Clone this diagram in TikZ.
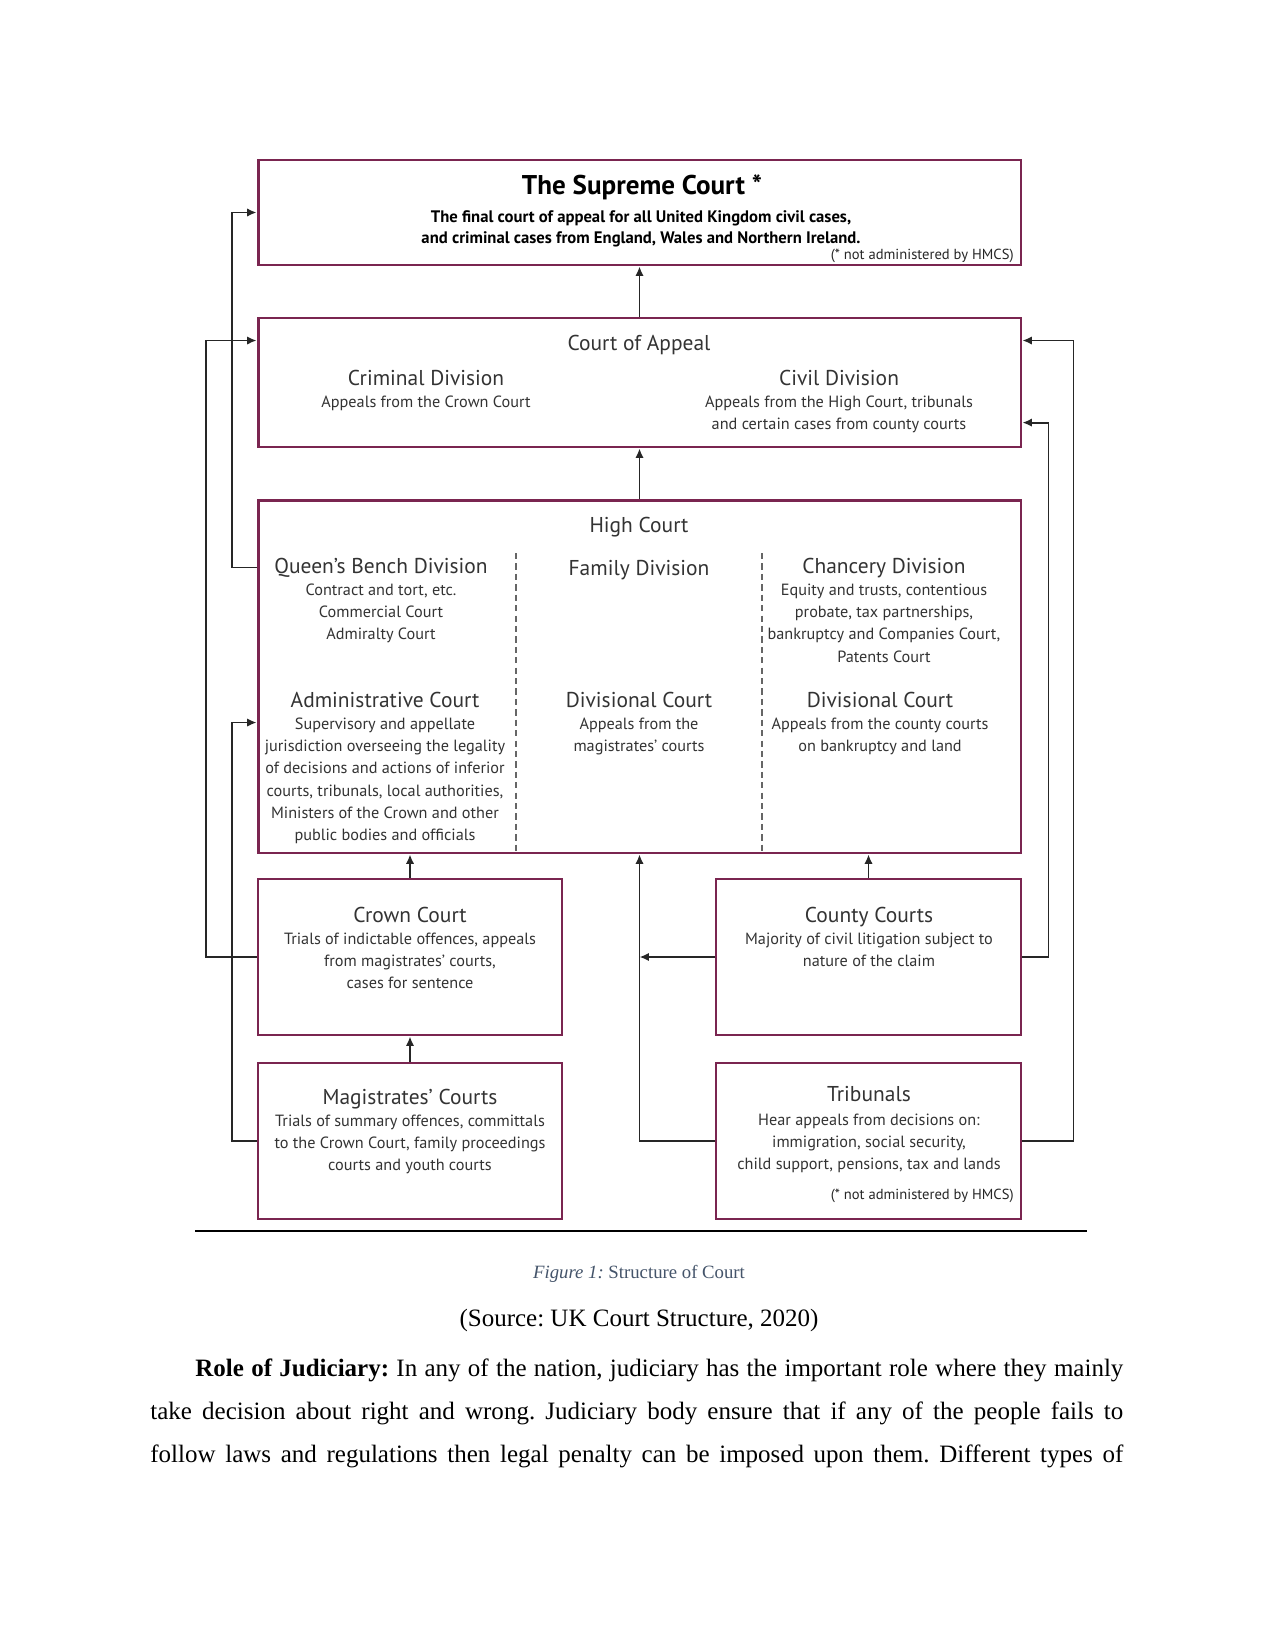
\documentclass[tikz,border=0pt]{standalone}
\usepackage{fontspec}
\setmainfont{Liberation Serif}
\newfontfamily\gillfont{PT Sans}
\usetikzlibrary{arrows.meta}
\definecolor{courtred}{HTML}{7A2550}
\definecolor{inkgrey}{HTML}{333333}
\definecolor{captionblue}{HTML}{44546A}
\frenchspacing

% heading inside a court box
\newcommand{\hd}[1]{{\fontsize{10.3}{10.6}\selectfont #1}}

\begin{document}
\begin{tikzpicture}[
      x=0.48pt, y=-0.48pt,
      box/.style={
        draw=courtred,
        line width=1.4pt,
        fill=white,
        inner sep=0pt
      },
      blurb/.style={font=\gillfont\fontsize{7.8}{10.6}\selectfont, text=inkgrey,
        align=center, inner sep=0pt, anchor=north},
      heading/.style={font=\gillfont\fontsize{10.3}{11}\selectfont, text=inkgrey, inner sep=0pt},
      note/.style={font=\gillfont\fontsize{7}{8}\selectfont, text=black!85, inner sep=0pt, anchor=east},
      arrow/.style={-{Latex[length=4.5pt,width=4pt]}, line width=0.9pt, draw=black!85},
      divider/.style={densely dashed, draw=black!60, line width=0.6pt}
    ]
      \fill[white] (0,0) rectangle (1275,1651);
      \useasboundingbox (0,0) rectangle (1275,1651);

      % the courts
      \node[box, minimum width=366.2pt, minimum height=50.4pt] (supreme) at (639.5,212.5) {};
      \node[box, minimum width=366.2pt, minimum height=61.9pt] (appeal) at (639.5,382.5) {};
      \node[box, minimum width=366.2pt, minimum height=169.4pt] (high) at (639.5,676.5) {};
      \node[box, minimum width=145.9pt, minimum height=74.9pt] (crown) at (410,957) {};
      \node[box, minimum width=146.4pt, minimum height=74.9pt] (county) at (868.5,957) {};
      \node[box, minimum width=145.9pt, minimum height=74.9pt] (magis) at (410,1141) {};
      \node[box, minimum width=146.4pt, minimum height=74.9pt] (trib) at (868.5,1141) {};

      % texts
      \node[font=\gillfont\bfseries\fontsize{13}{14}\selectfont, inner sep=0pt] (suptitle) at (642,187) {The Supreme Court *};
      \node[font=\gillfont\bfseries\fontsize{8}{10}\selectfont, align=center, inner sep=0pt] (suptext) at (641,228.5)
        {The final court of appeal for all United Kingdom civil cases,\\and criminal cases from England, Wales and Northern Ireland.};
      \node[note] (supnote) at (1014,256) {(* not administered by HMCS)};

      \node[heading] (apptitle) at (639,345) {Court of Appeal};
      \node[blurb] (criminal) at (426,370) {\hd{Criminal Division}\\Appeals from the Crown Court};
      \node[blurb] (civil) at (839,370) {\hd{Civil Division}\\Appeals from the High Court, tribunals\\and certain cases from county courts};

      \node[heading] (hightitle) at (639,527) {High Court};
      \node[blurb] (queens) at (381,558) {\hd{Queen’s Bench Division}\\Contract and tort, etc.\\Commercial Court\\Admiralty Court};
      \node[blurb] (family) at (639,560) {\hd{Family Division}};
      \node[blurb] (chancery) at (884,558) {\hd{Chancery Division}\\Equity and trusts, contentious\\probate, tax partnerships,\\bankruptcy and Companies Court,\\Patents Court};
      \node[blurb] (admin) at (385,692) {\hd{Administrative Court}\\Supervisory and appellate\\jurisdiction overseeing the legality\\of decisions and actions of inferior\\courts, tribunals, local authorities,\\Ministers of the Crown and other\\public bodies and officials};
      \node[blurb] (divfam) at (639,692) {\hd{Divisional Court}\\Appeals from the\\magistrates’ courts};
      \node[blurb] (divchan) at (880,692) {\hd{Divisional Court}\\Appeals from the county courts\\on bankruptcy and land};

      \node[blurb] (crowntext) at (410,907) {\hd{Crown Court}\\Trials of indictable offences, appeals\\from magistrates’ courts,\\cases for sentence};
      \node[blurb] (countytext) at (869,907) {\hd{County Courts}\\Majority of civil litigation subject to\\nature of the claim};
      \node[blurb] (magistext) at (410,1089) {\hd{Magistrates’ Courts}\\Trials of summary offences, committals\\to the Crown Court, family proceedings\\courts and youth courts};
      \node[blurb] (tribtext) at (869,1086) {\hd{Tribunals}\\[1pt]Hear appeals from decisions on:\\immigration, social security,\\child support, pensions, tax and lands};
      \node[note] (tribnote) at (1014,1196) {(* not administered by HMCS)};

      \draw[divider] (516,553) -- (516,853);
      \draw[divider] (762,553) -- (762,853);

      % appeals
      \draw[arrow] (appeal) -- (supreme);
      \draw[arrow] (high) -- (appeal);
      \draw[arrow] (crown) -- (crown |- high.south);
      \draw[arrow] (magis) -- (crown);
      \draw[arrow] (county) -- (county |- high.south);
      \draw[arrow] (trib.west) -| (high.south);
      \draw[arrow] (county.west) -- (county.west -| high.south);
      \draw[arrow] (trib.east) -- ++(51,0) |- ([yshift=-11.5pt]appeal.north east);
      \draw[arrow] (county.east) -- ++(26,0) |- ([yshift=12.4pt]appeal.south east);
      \draw[arrow] (crown.west) -- ++(-51,0) |- ([yshift=-11.5pt]appeal.north west);
      \draw[arrow] ([yshift=-33.1pt]high.north west) -- ++(-25,0) |- (supreme.west);
      \draw[arrow] (magis.west) -- ++(-25,0) |- ([yshift=-107.5pt]high.north west);

      % page text under the figure
      \draw[line width=1.1pt] (195,1231) -- (1087,1231);
      \node[font=\fontsize{9}{11}\selectfont, text=captionblue] (caption) at (639,1274) {\textit{Figure 1:} Structure of Court};
      \node[font=\fontsize{12}{14}\selectfont] (source) at (639,1320) {(Source: UK Court Structure, 2020)};
      \node[anchor=base west, inner sep=0pt, font=\fontsize{12}{14}\selectfont] (line1) at (195,1376)
        {\makebox[445.4pt][s]{\textbf{Role of Judiciary:} In any of the nation, judiciary has the important role where they mainly}};
      \node[anchor=base west, inner sep=0pt, font=\fontsize{12}{14}\selectfont] (line2) at (150,1419)
        {\makebox[467pt][s]{take decision about right and wrong. Judiciary body ensure that if any of the people fails to}};
      \node[anchor=base west, inner sep=0pt, font=\fontsize{12}{14}\selectfont] (line3) at (150,1462)
        {\makebox[467pt][s]{follow laws and regulations then legal penalty can be imposed upon them. Different types of}};
    \end{tikzpicture}
\end{document}
